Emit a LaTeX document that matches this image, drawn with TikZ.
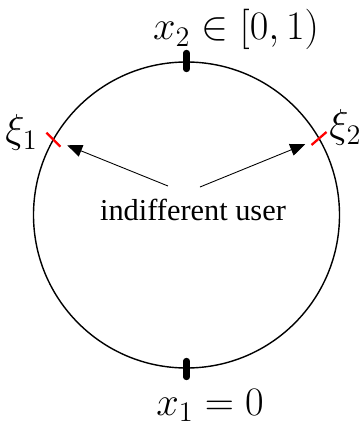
\documentclass[tikz,border=0pt]{standalone}
\usepackage{fix-cm}
\usepackage{fontspec}
\newfontfamily\timesfont{Liberation Serif}
\usetikzlibrary{arrows.meta, calc}

\begin{document}
\begin{tikzpicture}[x=0.02cm, y=0.02cm,
    ring/.style={line width=0.8pt},
    bar/.style={line width=3.6pt, line cap=round},
    ximark/.style={red, line width=1.3pt},
    pointer/.style={-{Triangle[length=8.5pt, width=7pt]}, line width=0.5pt, shorten >=0.3cm},
    lab/.style={font=\fontsize{23}{28}\selectfont, inner sep=0pt},
    usertext/.style={font=\timesfont\LARGE, inner sep=0pt}]
    \useasboundingbox (-186.5,-211) rectangle (172.5,215);
    \coordinate (c) at (0,0);
    \draw[ring] (c) circle[radius=153];
    % positions on the circle
    \draw[bar] (0,146) -- (0,162);
    \draw[bar] (0,-146) -- (0,-162);
    \coordinate (xi1) at (150.5:153);
    \coordinate (xi2) at (30:153);
    \draw[ximark] ($(xi1)+(-7,7)$) -- ($(xi1)+(7,-7)$);
    \draw[ximark] ($(xi2)+(-7.5,-6.5)$) -- ($(xi2)+(7.5,6.5)$);
    % labels
    \node[lab, anchor=base] (x2) at (49.5,175) {$x_2\in[0,1)$};
    \node[lab, anchor=base] (x1) at (23.5,-200) {$x_1=0$};
    \node[lab, anchor=base] (l1) at (-165,72) {$\xi_1$};
    \node[lab, anchor=base west] (l2) at (142.5,77) {$\xi_2$};
    \node[usertext, anchor=base] (user) at (6.5,-6) {indifferent user};
    \coordinate (from1) at (-18.5,29);
    \coordinate (from2) at (13.5,28);
    \draw[pointer] (from1) -- (xi1);
    \draw[pointer] (from2) -- (xi2);
\end{tikzpicture}
\end{document}
